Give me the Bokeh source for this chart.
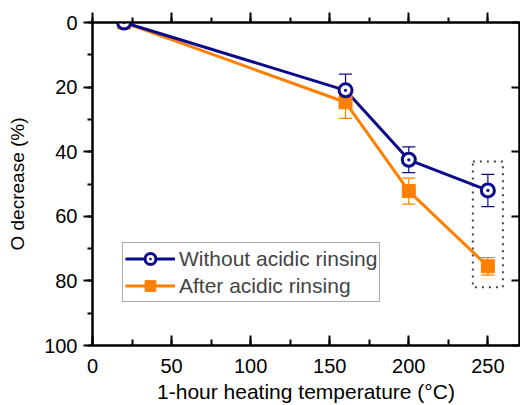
from bokeh.plotting import figure
from bokeh.models import (Range1d, LinearAxis, SingleIntervalTicker, Whisker, ColumnDataSource,
                          TeeHead, Legend, LegendItem, CustomJSTickFormatter)
from bokeh.embed import file_html
from bokeh.resources import INLINE

temps = [20, 160, 200, 250]
without_rinse = [0, 21, 42.5, 52]
without_err = [0, 5, 4, 5]
after_rinse = [0, 24.7, 52.2, 75.5]
after_err = [0, 5, 4, 2.7]

NAVY = "#0a0a8a"
ORANGE = "#ff8000"
FONT = "Liberation Sans"

p = figure(width=520, height=405, output_backend="svg", toolbar_location=None,
           x_range=Range1d(0, 270), y_range=Range1d(100, 0),
           min_border_left=92, min_border_top=22, min_border_right=1, min_border_bottom=60)
p.grid.visible = False
p.outline_line_color = "black"
p.outline_line_width = 2

xt = SingleIntervalTicker(interval=50, num_minor_ticks=2)
yt = SingleIntervalTicker(interval=20, num_minor_ticks=2)

bx = p.xaxis[0]
bx.ticker = xt
bx.major_tick_in = 10
bx.major_tick_out = 0
bx.minor_tick_in = 6
bx.minor_tick_out = 0
bx.axis_label = "1-hour heating temperature (°C)"

ly = p.yaxis[0]
ly.ticker = yt
ly.major_tick_in = 0
ly.major_tick_out = 9
ly.minor_tick_in = 0
ly.minor_tick_out = 5
ly.axis_label = "O decrease (%)"

for ax in (bx, ly):
    ax.axis_line_width = 2
    ax.major_tick_line_width = 2
    ax.minor_tick_line_width = 2
    ax.major_label_text_font = FONT
    ax.major_label_text_font_size = "20px"
    ax.axis_label_text_font = FONT
    ax.axis_label_text_font_style = "normal"
    ax.major_label_text_color = "black"
    ax.axis_label_text_color = "black"
bx.axis_label_text_font_size = "21px"
ly.axis_label_text_font_size = "19px"
bx.major_label_standoff = 13
bx.axis_label_standoff = 4
ly.major_label_standoff = 6
ly.axis_label_standoff = 13

top = LinearAxis(ticker=SingleIntervalTicker(interval=50, num_minor_ticks=2),
                 major_tick_in=0, major_tick_out=10, minor_tick_in=0, minor_tick_out=5,
                 formatter=CustomJSTickFormatter(code="return ''"), major_label_standoff=0,
                 axis_line_width=2, major_tick_line_width=2, minor_tick_line_width=2)
p.add_layout(top, "above")
right = LinearAxis(ticker=SingleIntervalTicker(interval=20, num_minor_ticks=2),
                   major_tick_in=8, major_tick_out=0, minor_tick_in=0, minor_tick_out=0,
                   formatter=CustomJSTickFormatter(code="return ''"), axis_line_width=2,
                   major_tick_line_width=2, major_label_standoff=0)
p.add_layout(right, "right")

# highlight box around last points
last_hi = min(without_rinse[-1], after_rinse[-1]) - 9
last_lo = max(after_rinse[-1], without_rinse[-1]) + 6.5
p.rect(x=[temps[-1]], y=[(last_hi + last_lo) / 2], width=19, height=last_lo - last_hi,
       fill_alpha=0, line_color="#444444", line_dash="2 5", line_width=2)

src_a = ColumnDataSource(dict(x=temps, y=after_rinse,
                              lo=[v - e for v, e in zip(after_rinse, after_err)],
                              hi=[v + e for v, e in zip(after_rinse, after_err)]))
src_w = ColumnDataSource(dict(x=temps, y=without_rinse,
                              lo=[v - e for v, e in zip(without_rinse, without_err)],
                              hi=[v + e for v, e in zip(without_rinse, without_err)]))

la = p.line("x", "y", source=src_a, line_color=ORANGE, line_width=3)
lw = p.line("x", "y", source=src_w, line_color=NAVY, line_width=3)

p.add_layout(Whisker(source=src_a, base="x", upper="hi", lower="lo", line_color=ORANGE, line_width=1.2,
                     upper_head=TeeHead(size=13, line_color=ORANGE, line_width=1.2),
                     lower_head=TeeHead(size=13, line_color=ORANGE, line_width=1.2)))
p.add_layout(Whisker(source=src_w, base="x", upper="hi", lower="lo", line_color=NAVY, line_width=1.2,
                     upper_head=TeeHead(size=13, line_color=NAVY, line_width=1.2),
                     lower_head=TeeHead(size=13, line_color=NAVY, line_width=1.2)))

ma = p.scatter("x", "y", source=src_a, marker="square", size=13, fill_color=ORANGE, line_color=ORANGE)
mw = p.scatter("x", "y", source=src_w, marker="circle_dot", size=13, fill_color="white",
               line_color=NAVY, line_width=3)

legend = Legend(items=[LegendItem(label="Without acidic rinsing", renderers=[lw, mw]),
                       LegendItem(label="After acidic rinsing", renderers=[la, ma])],
                location=(30, 43), label_text_font=FONT, label_text_font_size="21px",
                glyph_width=50, glyph_height=27, spacing=0, padding=2, margin=0,
                label_standoff=4, border_line_color="#555555", border_line_width=1.5,
                label_height=27)
p.add_layout(legend)

open("out.html", "w").write(file_html(p, INLINE))
